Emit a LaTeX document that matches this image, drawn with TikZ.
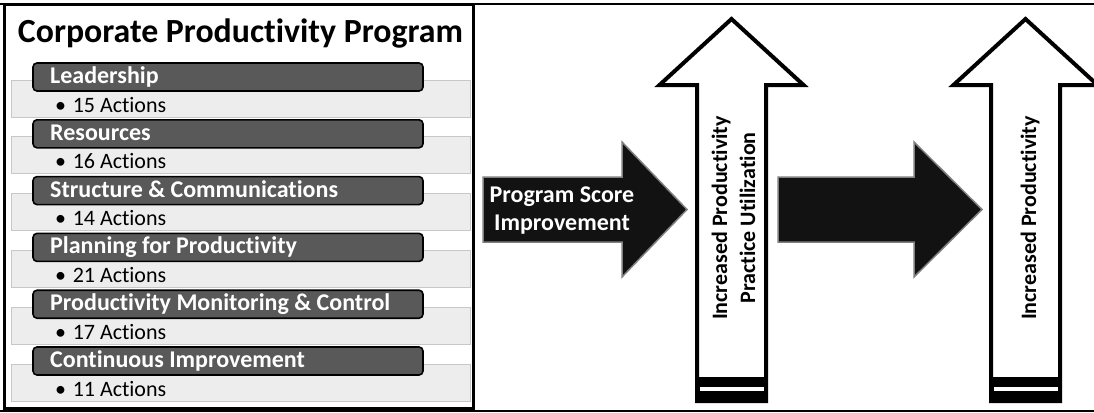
\documentclass[tikz,border=0pt]{standalone}
\usepackage{fontspec}
\setmainfont{Carlito}[Ligatures=NoCommon]
\usetikzlibrary{calc,positioning}
\definecolor{bargrey}{gray}{0.35}
\definecolor{rowgrey}{gray}{0.93}
\definecolor{rowline}{gray}{0.78}

\begin{document}
\begin{tikzpicture}[x=1pt,y=-1pt]

\tikzset{rowbox/.style={fill=rowgrey,draw=rowline,line width=1pt},
headbar/.style={fill=bargrey,draw=black,line width=1.6pt,rounded corners=4pt},
headtext/.style={font=\fontsize{24}{24}\selectfont\bfseries,text=white,inner sep=0pt,anchor=base west},
acttext/.style={font=\fontsize{22}{22}\selectfont,inner sep=0pt,anchor=base west},
fatarrow/.style={fill=black!93,draw=black!50,line width=1.5pt,line join=miter},
uparrow/.style={fill=white,draw=black,line width=4pt,line join=miter},
uptext/.style={font=\fontsize{22}{22}\selectfont\bfseries,inner sep=0pt,anchor=base,rotate=90}}

\useasboundingbox (0,0) rectangle (1094,412);

% Frame
\draw[line width=2pt] (0,4) -- (1094,4);
\draw[line width=2pt] (0,410.5) -- (1094,410.5);
\draw[line width=3.5pt] (4.5,4.5) rectangle (473.5,409);

% Program panel
\node[font=\fontsize{33.8}{34}\selectfont\bfseries,inner sep=0pt,anchor=base] (title) at (240.5,43) {Corporate Productivity Program};

\foreach \name/\num [count=\i from 0] in {Leadership/15,Resources/16,Structure \& Communications/14,Planning for Productivity/21,Productivity Monitoring \& Control/17,Continuous Improvement/11}{
  \pgfmathsetmacro\T{63+56.8*\i}
  \draw[rowbox] (11,\T+17) rectangle (470,\T+54);
  \draw[headbar] (33,\T) rectangle (423,\T+28);
  \node[headtext] (hdr\i) at (50,\T+20.5) {\name};
  \node[acttext] (act\i) at (55,\T+49) {•\hspace{0.3em}\num{} Actions};
}

% Score arrow
\draw[fatarrow] (483,177) -- (622,177) -- (622,142) -- (687,209.5) -- (622,277) -- (622,242) -- (483,242) -- cycle;
\node[headtext,anchor=base] (psi1) at (562,202) {Program Score};
\node[headtext,anchor=base] (psi2) at (562,230) {Improvement};

% Link arrow
\draw[fatarrow] (778,177) -- (914,177) -- (914,142) -- (982,209.5) -- (914,277) -- (914,242) -- (778,242) -- cycle;

% Up arrows
\foreach \c/\n in {731.5/1,1025.5/2}{
  \draw[uparrow] (\c-34.5,401) -- (\c-34.5,85) -- (\c-72,85) -- (\c,19) -- (\c+72,85) -- (\c+34.5,85) -- (\c+34.5,401) -- cycle;
  \fill[black] (\c-34.5,377) rectangle (\c+34.5,401);
  \fill[white] (\c-32,387) rectangle (\c+32,390.5);
}
\node[uptext] (ipu1) at (727,218) {Increased Productivity};
\node[uptext] (ipu2) at (755,218) {Practice Utilization};
\node[uptext] (ip) at (1036,218) {Increased Productivity};

\end{tikzpicture}
\end{document}
